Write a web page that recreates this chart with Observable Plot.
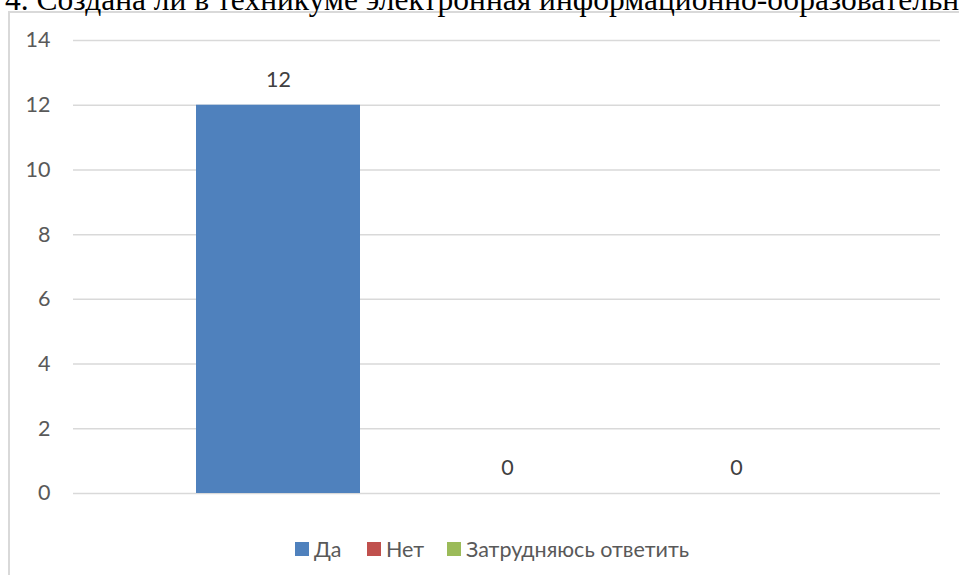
<!DOCTYPE html>
<html>
<head>
<meta charset="utf-8">
<script src="https://cdn.jsdelivr.net/npm/d3@7"></script>
<script src="https://cdn.jsdelivr.net/npm/@observablehq/plot@0.6"></script>
<style>
  html, body { margin: 0; padding: 0; background: #fff; overflow: hidden; }
  #page { position: relative; width: 959px; height: 575px; overflow: hidden; }
  #title { position: absolute; left: 5px; top: -16px; white-space: nowrap;
           font-family: "Liberation Serif", "Times New Roman", serif; font-size: 31.5px; line-height: 31.5px; color: #000; }
  #frame { position: absolute; left: 8px; top: 11px; width: 1000px; height: 700px;
           border: 2px solid #D9D9D9; box-sizing: border-box; }
  #chart { position: absolute; left: 0; top: 0; }
  #legend { position: absolute; left: 0; top: 536px; width: 959px; font-family: Lato, sans-serif;
            font-size: 21.5px; color: #595959; }
  .item { position: absolute; display: flex; align-items: center; white-space: nowrap; }
  .sw { width: 14px; height: 14px; margin-right: 5px; }
</style>
</head>
<body>
<div id="page">
  <div id="frame"></div>
  <div id="title"></div>
  <div id="chart"></div>
  <div id="legend"></div>
</div>
<script>
const title = "4. Создана ли в техникуме электронная информационно-образовательная среда?";
const categories = ["Да", "Нет", "Затрудняюсь ответить"];
const values = [12, 0, 0];
const colors = ["#4F81BD", "#C0504D", "#9BBB59"];
const yTicks = [0, 2, 4, 6, 8, 10, 12, 14];

const data = categories.map((c, i) => ({cat: c, value: values[i]}));

document.getElementById("title").textContent = title;

const chart = Plot.plot({
  width: 959,
  height: 520,
  marginTop: 40,
  marginBottom: 27,
  marginLeft: 73,
  marginRight: 19,
  x: {domain: categories, axis: null, paddingInner: 0.285, paddingOuter: 0.53},
  y: {domain: [0, 14], ticks: yTicks, tickSize: 0, tickPadding: 23, label: null},
  color: {domain: categories, range: colors},
  style: {fontFamily: "Lato, sans-serif", fontSize: "21.5px", color: "#595959", background: "transparent", overflow: "visible"},
  marks: [
    Plot.gridY(yTicks, {stroke: "#D9D9D9", strokeOpacity: 1, strokeWidth: 1.5}),
    Plot.barY(data, {x: "cat", y: "value", fill: "cat"}),
    Plot.text(data, {x: "cat", y: "value", text: d => String(d.value), dy: -25, fill: "#404040", fontSize: 21.5})
  ]
});
document.getElementById("chart").appendChild(chart);

const legendX = [295, 367, 447];
const legend = d3.select("#legend");
categories.forEach((c, i) => {
  const item = legend.append("div").attr("class", "item").style("left", legendX[i] + "px");
  item.append("div").attr("class", "sw").style("background", colors[i]);
  item.append("span").text(c);
});
</script>
</body>
</html>
